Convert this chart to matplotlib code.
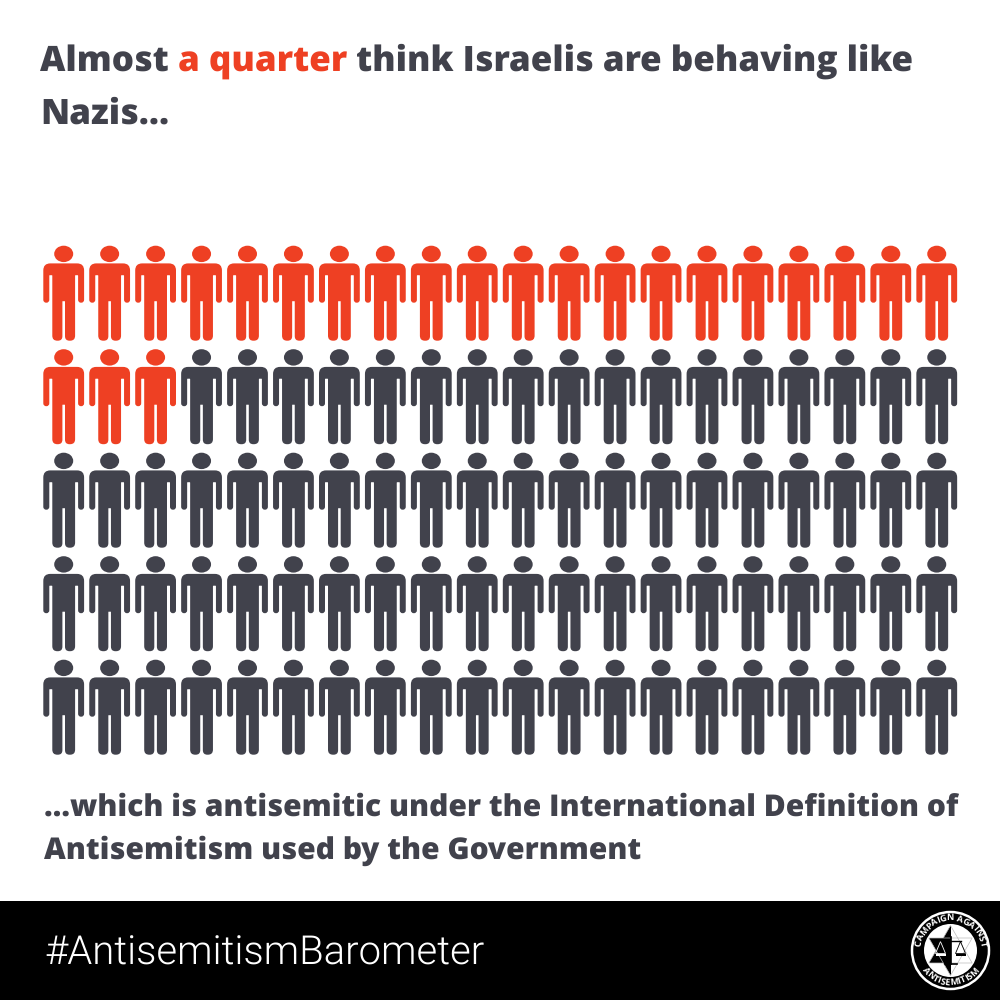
import numpy as np
import matplotlib
matplotlib.use('Agg')
import matplotlib.pyplot as plt
from matplotlib.path import Path
from matplotlib.patches import PathPatch, Ellipse, Circle, Rectangle, Polygon

plt.rcParams['text.hinting'] = 'no_hinting'
plt.rcParams['text.hinting_factor'] = 1

title_parts = ["Almost ", "a quarter", " think Israelis are behaving like"]
title_line2 = "Nazis..."
footer_lines = ["...which is antisemitic under the International Definition of",
                "Antisemitism used by the Government"]
hashtag = "#AntisemitismBarometer"
logo_top = "CAMPAIGN AGAINST"
logo_bottom = "ANTISEMITISM"

n_rows = 5
n_cols = 20
n_highlighted = 23

ORANGE = '#EE4023'
DARK = '#41424C'
FONT = ['Open Sans', 'DejaVu Sans']


def rounded_path(pts):
    # pts are (x, y, corner radius)
    verts, codes = [], []
    n = len(pts)
    for i in range(n):
        p = np.array(pts[i][:2], float)
        a = np.array(pts[i - 1][:2], float)
        b = np.array(pts[(i + 1) % n][:2], float)
        r = pts[i][2]
        d1 = (a - p) / np.linalg.norm(a - p)
        d2 = (b - p) / np.linalg.norm(b - p)
        verts.append(p + d1 * r)
        codes.append(Path.MOVETO if i == 0 else Path.LINETO)
        verts += [p, p + d2 * r]
        codes += [Path.CURVE3, Path.CURVE3]
    verts.append(verts[0])
    codes.append(Path.CLOSEPOLY)
    return Path(verts, codes)


# right half outline from the shoulder down to the crotch, mirrored for the left
half = [(20.4, 17.7, 7), (20.4, 57, 2.9), (14.4, 57, 2.9), (14.4, 29.5, .5),
        (11.4, 29.5, .5), (11.4, 95, 5), (1.3, 95, 4.5), (1.3, 55.5, .3)]
body = half + [(-x, y, r) for x, y, r in half[::-1]]
body_path = rounded_path(body)


def draw_person(ax, cx, top, color):
    ax.add_patch(Ellipse((cx, top + 8.2), 19, 16.4, color=color, lw=0))
    tr = matplotlib.transforms.Affine2D().translate(cx, top) + ax.transData
    ax.add_patch(PathPatch(body_path, facecolor=color, edgecolor='none', transform=tr))


def arc_text(ax, renderer, s, cx, cy, r, span, top=True, size=6.2):
    # one letter at a time along the ring, spaced by the real letter widths
    kw = dict(color='white', fontsize=size, fontweight='bold', family=FONT,
              ha='center', va='center', rotation_mode='anchor')
    widths = []
    for ch in s:
        probe = ax.text(0, 0, ch.replace(' ', '\u00a0'), **kw)
        widths.append(probe.get_window_extent(renderer).width)
        probe.remove()
    widths = np.array(widths) + 0.5
    mids = np.cumsum(widths) - widths / 2
    frac = mids / widths.sum() - 0.5
    for ch, f in zip(s, frac):
        a = np.radians(90 - f * span if top else 270 + f * span)
        rot = np.degrees(a) - 90 if top else np.degrees(a) + 90
        ax.text(cx + r * np.cos(a), cy - r * np.sin(a), ch, rotation=rot, **kw)


def fit_text(t, renderer, width):
    # scale the font so the line is as wide as in the picture
    t.set_fontsize(t.get_fontsize() * width / t.get_window_extent(renderer).width)


fig = plt.figure(figsize=(10, 10), dpi=100)
ax = fig.add_axes([0, 0, 1, 1])
ax.set_xlim(0, 1000)
ax.set_ylim(1000, 0)
ax.axis('off')

# title, pieces placed one after the other
renderer = fig.canvas.get_renderer()
x = 40
for part, col in zip(title_parts, [DARK, ORANGE, DARK]):
    t = ax.text(x, 70.5, part.replace(' ', '\u00a0'), color=col, fontsize=25.2, fontweight=800,
                family=FONT, va='baseline', ha='left')
    x = t.get_window_extent(renderer).x1
ax.text(40, 123.5, title_line2, color=DARK, fontsize=25.2, fontweight=800, family=FONT,
        va='baseline', ha='left')

# the people
for i in range(n_rows * n_cols):
    row, col = divmod(i, n_cols)
    draw_person(ax, 63.7 + col * 45.95, 245.7 + row * 103.5, ORANGE if i < n_highlighted else DARK)

t = ax.text(44, 815.5, footer_lines[0], color=DARK, fontsize=21.4, fontweight=800, family=FONT,
            va='baseline', ha='left')
fit_text(t, renderer, 910)
ax.text(44, 859, footer_lines[1], color=DARK, fontsize=t.get_fontsize(), fontweight=800, family=FONT,
        va='baseline', ha='left')

# bottom band
ax.add_patch(Rectangle((0, 901), 1000, 99, color='black', lw=0))
t = ax.text(44, 965, hashtag, color='white', fontsize=28, fontweight=300, family=['Roboto', 'DejaVu Sans'],
            va='baseline', ha='left')
fit_text(t, renderer, 437)

# logo
lx, ly = 950.5, 950.5
ax.add_patch(Circle((lx, ly), 38.5, facecolor='black', edgecolor='white', lw=1.8))
ax.add_patch(Circle((lx, ly), 26.5, facecolor='white', edgecolor='none'))
ang = np.radians(np.array([90, 210, 330]))
star_r = 25
left_half = Rectangle((lx - 27, ly - 27), 27, 54, transform=ax.transData)
for offset in (0, np.pi):
    tri = np.c_[lx + star_r * np.cos(ang + offset), ly - star_r * np.sin(ang + offset)]
    # only the left half of the star is solid
    solid = ax.add_patch(Polygon(tri, closed=True, facecolor='black', edgecolor='none'))
    solid.set_clip_path(left_half)
    ax.add_patch(Polygon(tri, closed=True, fill=False, edgecolor='#bbbbbb', lw=0.5))
ax.plot([lx, lx], [ly - 14, ly + 13], color='black', lw=1.2)
ax.plot([lx - 10, lx + 10], [ly - 10, ly - 10], color='black', lw=1)
ax.plot([lx - 6, lx + 6], [ly + 13, ly + 13], color='black', lw=1.2)
for sx in (-1, 1):
    col = 'white' if sx < 0 else 'black'
    ax.add_patch(Polygon([(lx + sx * 10, ly - 9), (lx + sx * 15, ly + 3), (lx + sx * 5, ly + 3)],
                         closed=True, fill=False, edgecolor=col, lw=0.6))
    ax.add_patch(Rectangle((lx + sx * 10 - 5, ly + 3), 10, 2.5, color=col, lw=0))

arc_text(ax, renderer, logo_top, lx, ly, 32.4, 165, top=True)
arc_text(ax, renderer, logo_bottom, lx, ly, 32.4, 112, top=False)

fig.savefig('out.png', dpi=100, facecolor='white')
